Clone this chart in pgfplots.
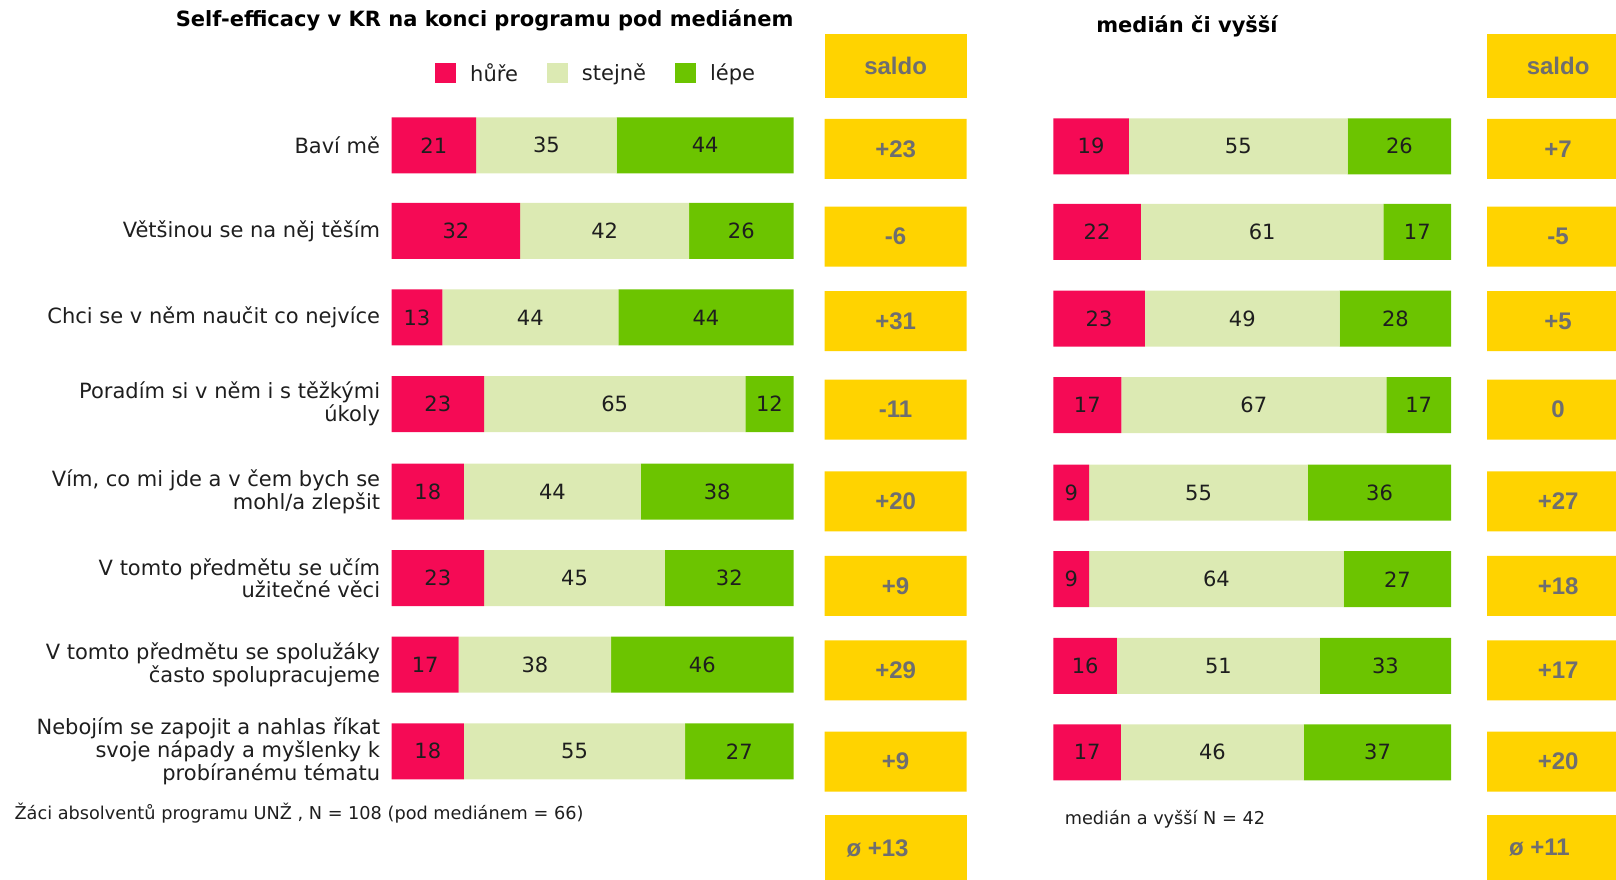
\documentclass[border=0pt]{standalone}
\usepackage{pgfplots}
\usepackage{pgfplotstable}
\pgfplotsset{compat=1.18}
\usepackage{fontspec}
\setmainfont{DejaVu Sans}
\newfontfamily\saldofont{Liberation Sans}
\definecolor{cred}{HTML}{F50A55}
\definecolor{clight}{HTML}{DCEAB3}
\definecolor{cgreen}{HTML}{6CC400}
\definecolor{cyellow}{HTML}{FFD300}
\definecolor{cgray}{HTML}{6E6E70}
\definecolor{ctext}{HTML}{1E1E1E}

\pgfplotstableread{
y hure stejne lepe hl sl ll
145.3 21 35 44 21 35 44
230.9 32 42 26 32 42 26
317.4 12.6 43.8 43.6 13 44 44
404.0 23 65 12 23 65 12
491.6 18 44 38 18 44 38
578.2 23 45 32 23 45 32
664.7 16.7 37.9 45.4 17 38 46
751.3 18 55 27 18 55 27
}\leftdata
\pgfplotstableread{
y hure stejne lepe hl sl ll
146.3 19 55 26 19 55 26
231.9 22 61 17 22 61 17
318.5 23 49 28 23 49 28
405.0 17.1 66.6 16.3 17 67 17
492.6 9 55 36 9 55 36
579.2 9 64 27 9 64 27
665.8 16 51 33 16 51 33
752.3 17 46 37 17 46 37
}\rightdata

\pgfplotsset{
  baseax/.style={
    scale only axis, height=879pt, ymin=0, ymax=879, y dir=reverse,
    axis line style={draw=none}, tick style={draw=none},
    xtick=\empty, anchor=north west, clip=false,
    /pgf/number format/assume math mode=true,
  },
  barax/.style={
    baseax, xmin=0, xmax=100, xbar stacked, bar width=56,
    point meta=explicit symbolic,
    nodes near coords={\pgfplotspointmeta},
    every node near coord/.append style={anchor=center,
      font=\fontsize{21}{24}\selectfont, text=ctext},
  },
  saldoax/.style={
    baseax, xmin=0, xmax=1, ytick=\empty, width=142.2pt,
    point meta=explicit symbolic,
    nodes near coords={\pgfplotspointmeta},
    every node near coord/.append style={
      font=\saldofont\bfseries\fontsize{24}{26}\selectfont, text=cgray},
  },
  sbox/.style={xbar, fill=cyellow, draw=none, bar shift=0pt,
    every node near coord/.append style={anchor=center,
      shift={(axis direction cs:-0.5,0)}}},
  sboxavg/.style={xbar, fill=cyellow, draw=none, bar shift=0pt, bar width=66,
    every node near coord/.append style={anchor=west,
      shift={(axis direction cs:-0.87,0)}}},
}

\begin{document}
\begin{tikzpicture}
\useasboundingbox (0pt,0pt) rectangle (1616pt,879pt);

% ---------- left bars ----------
\begin{axis}[barax, at={(391.6pt,879pt)}, width=402pt,
  ytick={145.3,230.9,317.4,404.0,491.6,578.2,664.7,751.3},
  yticklabels={{Baví mě},{Většinou se na něj těším},{Chci se v něm naučit co nejvíce},
    {Poradím si v něm i s těžkými\\úkoly},{Vím, co mi jde a v čem bych se\\mohl/a zlepšit},
    {V tomto předmětu se učím\\užitečné věci},{V tomto předmětu se spolužáky\\často spolupracujeme},
    {Nebojím se zapojit a nahlas říkat\\svoje nápady a myšlenky k\\probíranému tématu}},
  yticklabel style={font=\fontsize{21}{22.7}\selectfont, align=right, inner sep=0pt,
    text=ctext, xshift=-11.3pt},
  legend columns=3,
  legend style={at={(axis description cs:0.108,0.917)}, anchor=west, draw=none, fill=none,
    inner sep=0pt, font=\fontsize{21}{24}\selectfont, text=ctext,
    nodes={inner sep=0pt},
    /tikz/every odd column/.append style={column sep=14.4pt},
    /tikz/every even column/.append style={column sep=29pt}},
  legend image code/.code={\fill[#1] (0pt,-10.3pt) rectangle (20.6pt,10.3pt);},
]
\addplot[fill=cred, draw=none] table[x=hure, y=y, meta=hl] \leftdata;
\addplot[fill=clight, draw=none] table[x=stejne, y=y, meta=sl] \leftdata;
\addplot[fill=cgreen, draw=none] table[x=lepe, y=y, meta=ll] \leftdata;
\legend{hůře, stejně, lépe}
\end{axis}

% ---------- right bars ----------
\begin{axis}[barax, at={(1053.3pt,879pt)}, width=397.8pt, ytick=\empty]
\addplot[fill=cred, draw=none] table[x=hure, y=y, meta=hl] \rightdata;
\addplot[fill=clight, draw=none] table[x=stejne, y=y, meta=sl] \rightdata;
\addplot[fill=cgreen, draw=none] table[x=lepe, y=y, meta=ll] \rightdata;
\end{axis}

% ---------- left saldo ----------
\begin{axis}[saldoax, at={(824.5pt,879pt)}]
\addplot[sbox, bar width=64] coordinates {(1,66) [saldo]};
\addplot[sbox, bar width=60] coordinates {
  (1,148.9) [+23] (1,236.5) [-6] (1,321.0) [+31] (1,409.7) [-11]
  (1,501.4) [+20] (1,585.9) [+9] (1,670.4) [+29] (1,761.6) [+9]};
\addplot[sboxavg] coordinates {(1,848) [ø +13]};
\end{axis}

% ---------- right saldo ----------
\begin{axis}[saldoax, at={(1487pt,879pt)}]
\addplot[sbox, bar width=64] coordinates {(1,66) [saldo]};
\addplot[sbox, bar width=60] coordinates {
  (1,148.9) [+7] (1,236.5) [-5] (1,321.0) [+5] (1,409.7) [0]
  (1,501.4) [+27] (1,585.9) [+18] (1,670.4) [+17] (1,761.6) [+20]};
\addplot[sboxavg] coordinates {(1,848) [ø +11]};
\end{axis}

% ---------- titles and notes ----------
\node[anchor=east, font=\bfseries\fontsize{21}{24}\selectfont, text=black, inner sep=0pt]
  at (793.6pt,858.4pt) {Self-efficacy v KR na konci programu pod mediánem};
\node[anchor=center, font=\bfseries\fontsize{21}{24}\selectfont, text=black, inner sep=0pt]
  at (1187pt,852.2pt) {medián či vyšší};
\node[anchor=west, font=\fontsize{17.7}{21}\selectfont, text=ctext, inner sep=0pt]
  at (14.4pt,66pt) {Žáci absolventů programu UNŽ , N = 108 (pod mediánem = 66)};
\node[anchor=west, font=\fontsize{17.7}{21}\selectfont, text=ctext, inner sep=0pt]
  at (1064.6pt,60pt) {medián a vyšší N = 42};
\end{tikzpicture}
\end{document}
